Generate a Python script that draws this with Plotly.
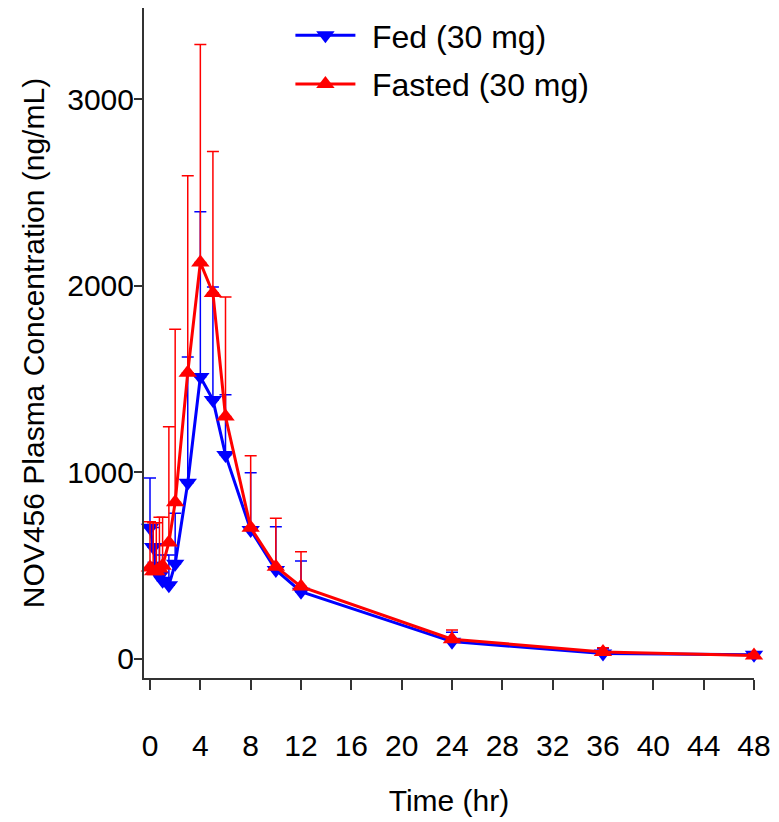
import plotly.graph_objects as go

time_hr = [0, 0.25, 0.5, 0.75, 1, 1.5, 2, 3, 4, 5, 6, 8, 10, 12, 24, 36, 48]

fed_mean = [704, 600, 500, 445, 420, 395, 510, 945, 1512, 1389, 1094, 692, 477, 361, 93, 30, 22]
fed_upper = [970, 705, 611, 611, 558, 558, 781, 1619, 2398, 1994, 1416, 999, 709, 525, 143, 55, 35]

fasted_mean = [490, 470, 470, 485, 500, 625, 840, 1535, 2125, 1962, 1300, 704, 495, 388, 106, 38, 18]
fasted_upper = [736, 730, 730, 760, 760, 1245, 1768, 2591, 3294, 2720, 1941, 1090, 754, 575, 155, 60, 30]

fed_sd = [u - m for u, m in zip(fed_upper, fed_mean)]
fasted_sd = [u - m for u, m in zip(fasted_upper, fasted_mean)]

x_ticks = list(range(0, 49, 4))
y_ticks = [0, 1000, 2000, 3000]

FONT = "Liberation Sans, Arial, sans-serif"
NB = "\u00a0\u200a"

fig = go.Figure()
fig.add_trace(go.Scatter(
    x=time_hr, y=fed_mean, name=NB + "Fed (30 mg)", mode="lines+markers",
    legendgroup="fed",
    line=dict(color="#0000FF", width=3),
    marker=dict(symbol="triangle-down", size=16, color="#0000FF"),
    error_y=dict(type="data", symmetric=False, array=fed_sd,
                 arrayminus=[0] * len(fed_sd), color="#0000FF",
                 thickness=1.5, width=6),
    cliponaxis=False,
))
fig.add_trace(go.Scatter(
    x=time_hr, y=fasted_mean, name=NB + "Fasted (30 mg)", mode="lines+markers",
    legendgroup="fasted",
    line=dict(color="#FF0000", width=3),
    marker=dict(symbol="triangle-up", size=16, color="#FF0000"),
    error_y=dict(type="data", symmetric=False, array=fasted_sd,
                 arrayminus=[0] * len(fasted_sd), color="#FF0000",
                 thickness=1.5, width=6),
    cliponaxis=False,
))

fig.update_layout(
    width=771, height=814,
    margin=dict(l=136, r=25, t=0, b=144),
    paper_bgcolor="white", plot_bgcolor="white",
    font=dict(family=FONT, size=30, color="black"),
    showlegend=True,
    legend=dict(x=0.24, y=1.0, xanchor="left", yanchor="top",
                bgcolor="rgba(0,0,0,0)", font=dict(size=32),
                itemwidth=60,
                tracegroupgap=4, traceorder="grouped"),
    xaxis=dict(
        range=[-0.477, 48], tickvals=x_ticks, ticktext=[str(v) for v in x_ticks],
        showgrid=False, zeroline=False, showline=True, linecolor="#333333",
        linewidth=2, ticks="outside", ticklen=10, tickwidth=2, tickcolor="#333333",
        ticklabelstandoff=30, tickfont=dict(size=30), automargin=False,
        title=dict(text="Time (hr)", font=dict(size=30), standoff=29),
    ),
    yaxis=dict(
        range=[-102, 3490], tickvals=y_ticks, ticktext=[str(v) for v in y_ticks],
        showgrid=False, zeroline=False, showline=True, linecolor="#333333",
        linewidth=2, ticks="outside", ticklen=8, tickwidth=2, tickcolor="#333333",
        ticklabelstandoff=-6, tickfont=dict(size=30), automargin=False,
        title=dict(text="NOV456 Plasma Concentration (ng/mL)", font=dict(size=30),
                   standoff=14),
    ),
)

fig.write_html("out.html")
